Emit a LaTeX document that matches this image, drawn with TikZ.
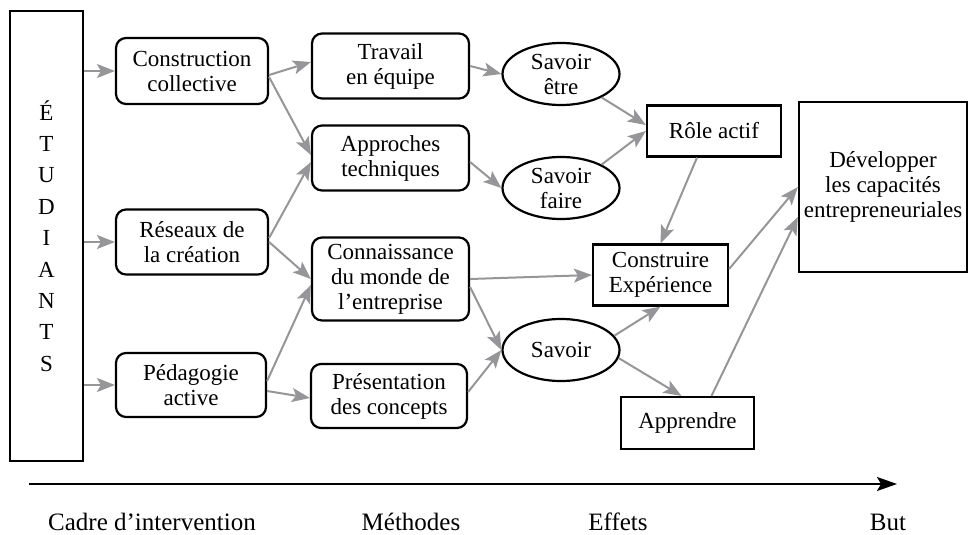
\documentclass[tikz,border=0pt]{standalone}
\usepackage{fontspec}
\setmainfont{Liberation Serif}
\usetikzlibrary{arrows.meta,shapes.geometric}

\definecolor{linkgray}{RGB}{150,150,152}

\begin{document}
\begin{tikzpicture}[
    x=0.5pt, y=-0.5pt,
    every node/.style={font=\fontsize{11.5}{12.5}\selectfont, align=center},
    students node/.style={draw, line width=1.1pt, minimum width=36.5pt, minimum height=225pt, inner sep=0pt, font=\fontsize{11.5}{15.7}\selectfont},
    frame node/.style={draw, line width=1.1pt, rounded corners=5pt, minimum width=76pt, minimum height=33pt, inner sep=1pt},
    method node/.style={frame node, minimum width=78.5pt, minimum height=32.5pt},
    effect node/.style={draw, line width=1.1pt, ellipse, minimum width=58.5pt, minimum height=31pt, inner sep=-1.5pt},
    result node/.style={draw, line width=1.1pt, minimum width=67pt, minimum height=26pt, inner sep=1pt},
    goal node/.style={draw, line width=1.1pt, minimum width=84pt, minimum height=85pt, inner sep=0pt},
    connection/.style={-{Stealth[length=9pt, width=7pt, inset=2pt]}, line width=1pt, linkgray},
    axis line/.style={-{Stealth[length=10pt, width=7pt, inset=2pt]}, line width=0.9pt, black},
    stage label/.style={font=\fontsize{12.5}{14}\selectfont}
]
\useasboundingbox (0,0) rectangle (969,535);

% Students
\node[students node] (etu) at (46.5,236) {É\\T\\U\\D\\I\\A\\N\\T\\S};

% Intervention framework
\node[frame node] (cc) at (192,71) {Construction\\collective};
\node[frame node, minimum height=32.5pt] (rs) at (192,242) {Réseaux de\\la création};
\node[frame node, minimum width=75pt, minimum height=32pt] (pa) at (191,385) {Pédagogie\\active};

% Methods
\node[method node] (te) at (390.5,66) {Travail\\en équipe};
\node[method node] (at) at (390.5,158) {Approches\\techniques};
\node[method node, minimum height=41.5pt] (km) at (390.5,279) {Connaissance\\du monde de\\l’entreprise};
\node[method node, minimum width=78pt, minimum height=32pt] (pc) at (389,396) {Présentation\\des concepts};

% Effects
\node[effect node] (se) at (561,74) {Savoir\\être};
\node[effect node] (sf) at (561,188) {Savoir\\faire};
\node[effect node] (sv) at (561,350) {Savoir};
\node[result node, minimum height=25.5pt] (ra) at (714,131) {Rôle actif};
\node[result node, minimum width=67.5pt, minimum height=30.5pt] (ce) at (660.5,275) {Construire\\Expérience};
\node[result node, minimum width=66.5pt] (ap) at (687.5,423) {Apprendre};

% Goal
\node[goal node] (dev) at (883,187) {Développer\\les capacités\\entrepreneuriales};

% Connections
\draw[connection] (etu.east |- cc.west) -- (cc.west);
\draw[connection] (etu.east |- rs.west) -- (rs.west);
\draw[connection] (etu.east |- pa.west) -- (pa.west);

\draw[connection] ([yshift=-2pt]cc.east) -- ([yshift=2pt]te.west);
\draw[connection] ([yshift=-3pt]cc.east) -- ([yshift=1.5pt]at.west);
\draw[connection] ([yshift=2pt]rs.east) -- ([yshift=-2pt]at.west);
\draw[connection] (rs.east) -- (km.west);
\draw[connection] ([yshift=2pt]pa.east) -- ([yshift=-3pt]km.west);
\draw[connection] ([yshift=-3pt]pa.east) -- ([yshift=-1pt]pc.west);

\draw[connection] (te.east) -- (se.west);
\draw[connection] ([yshift=-2pt]at.east) -- (sf.west);
\draw[connection] (km.east) -- (ce.west);
\draw[connection] ([yshift=-4pt]km.east) -- (sv.west);
\draw[connection] ([yshift=2pt]pc.east) -- (sv.west);

\draw[connection] (se.-30) -- ([yshift=3pt]ra.west);
\draw[connection] (sf.30) -- (ra.west);
\draw[connection] ([xshift=-8.5pt]ra.south) -- (ce.north);
\draw[connection] (sv.15) -- (ce.south);
\draw[connection] (sv.-8) -- ([xshift=-3pt]ap.north);
\draw[connection] ([yshift=3pt]ce.east) -- (dev.west);
\draw[connection] ([xshift=12pt]ap.north) -- ([yshift=-15pt]dev.west);

% Time axis
\coordinate (axstart) at (29,484);
\coordinate (axend) at (897,484);
\draw[axis line] (axstart) -- (axend);

% Stages
\node[stage label] (lcadre) at (152,522) {Cadre d’intervention};
\node[stage label] (lmeth) at (411,522) {Méthodes};
\node[stage label] (leff) at (618,522) {Effets};
\node[stage label] (lbut) at (888,522) {But};

\end{tikzpicture}
\end{document}
